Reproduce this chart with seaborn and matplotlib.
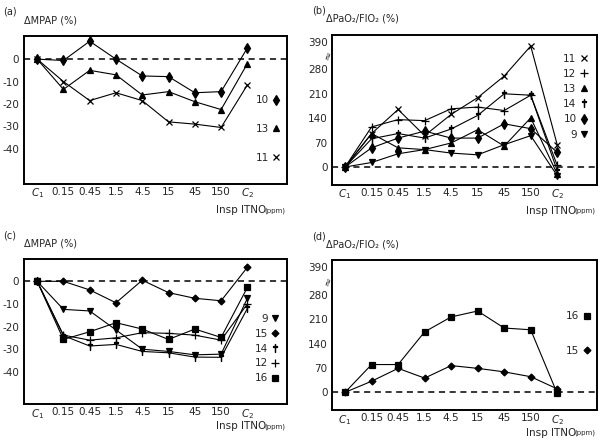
import numpy as np
import pandas as pd
import matplotlib
matplotlib.use('Agg')
import matplotlib.pyplot as plt
import seaborn as sns
from matplotlib.lines import Line2D

doses = ['$C_1$', '0.15', '0.45', '1.5', '4.5', '15', '45', '150', '$C_2$']

# (a) delta MPAP (%)
a_10 = [0, -0.6, 8, 0, -7.5, -7.8, -15, -14.5, 5]
a_13 = [0, -13.5, -5, -7, -16, -14.5, -19, -22.5, -2]
a_11 = [0, -10, -18.5, -15, -18.5, -28, -29, -30.5, -11.5]

# (b) delta PaO2/FIO2 (%)
b_11 = [0, 96, 165, 90, 151, 199, 261, 373, 64]
b_12 = [0, 115, 136, 133, 167, 172, 162, 206, 5]
b_13 = [0, 96, 55, 50, 69, 107, 60, 141, -20]
b_14 = [0, 81, 96, 83, 109, 148, 210, 206, -10]
b_10 = [0, 55, 83, 103, 83, 83, 124, 110, 42]
b_9 = [0, 13, 38, 50, 40, 35, 64, 90, -25]

# (c) delta MPAP (%)
c_9 = [0, -12.4, -13.1, -21.5, -30, -31, -32.5, -32.2, -7.5]
c_15 = [0, 0, -3.8, -9.5, 0.5, -5, -7.5, -8.6, 6.2]
c_14 = [0, -24, -28.6, -27.9, -31, -31.6, -33.5, -33.6, -12]
c_12 = [0, -23.8, -26, -25, -22.7, -23, -23.8, -26, -10]
c_16 = [0, -25.7, -22.3, -18.3, -21.1, -25.7, -21.1, -24.8, -2.7]

# (d) delta PaO2/FIO2 (%)
d_16 = [0, 80, 80, 174, 217, 234, 185, 180, -3]
d_15 = [0, 32, 69, 41, 77, 69, 59, 45, 10]

markers = {'9': 'v', '10': 'd', '11': 'x', '12': '+', '13': '^',
           '14': r'$\dagger$', '15': 'D', '16': 's'}
msize = {'9': 5, '10': 5, '11': 5, '12': 6, '13': 5, '14': 6, '15': 3.5, '16': 5}

panels = [
    ('(a)', 'ΔMPAP (%)', {'10': a_10, '13': a_13, '11': a_11}, ['10', '13', '11']),
    ('(b)', 'ΔPaO₂/FIO₂ (%)', {'11': b_11, '12': b_12, '13': b_13, '14': b_14, '10': b_10, '9': b_9},
     ['11', '12', '13', '14', '10', '9']),
    ('(c)', 'ΔMPAP (%)', {'9': c_9, '15': c_15, '14': c_14, '12': c_12, '16': c_16},
     ['9', '15', '14', '12', '16']),
    ('(d)', 'ΔPaO₂/FIO₂ (%)', {'16': d_16, '15': d_15}, ['16', '15']),
]

sns.set_style('white')
plt.rcParams['font.family'] = ['DejaVu Sans']
plt.rcParams['mathtext.fontset'] = 'dejavusans'


def fwd(v):
    v = np.asarray(v, dtype=float)
    return np.where(v > 280, 280 + (v - 280) * 0.72, v)


def inv(u):
    u = np.asarray(u, dtype=float)
    return np.where(u > 280, 280 + (u - 280) / 0.72, u)


fig = plt.figure(figsize=(6, 4.4), dpi=100)
boxes = [[0.040, 0.582, 0.438, 0.336], [0.553, 0.580, 0.442, 0.341],
         [0.040, 0.081, 0.438, 0.3295], [0.553, 0.068, 0.442, 0.340]]
ylims = [(-55.7, 10.3), (-51, 418), (-54.4, 9.7), (-51, 418)]
leg_pos = [(0.975, 0.60, 1.8), (0.966, 0.875, 0.5), (0.972, 0.625, 0.47), (0.977, 0.66, 2.35)]
xlab_y = [0.522, 0.520, 0.031, 0.017]

for i, (tag, ylab, series, order) in enumerate(panels):
    ax = fig.add_axes(boxes[i])
    rows = []
    for name, vals in series.items():
        for k, v in enumerate(vals):
            rows.append({'pos': k, 'value': v, 'patient': name})
    df = pd.DataFrame(rows)
    pressure = i in (0, 2)
    if not pressure:
        ax.set_yscale('function', functions=(fwd, inv))
    ax.axhline(0, color='black', lw=1.1, ls=(0, (4, 3)), zorder=1)
    for name in order:
        sub = df[df['patient'] == name]
        sns.lineplot(data=sub, x='pos', y='value', color='black', lw=0.8,
                     marker=markers[name], markersize=msize[name], markeredgewidth=0.9,
                     markeredgecolor='black', ax=ax, legend=False, zorder=3)
    ax.set_xlim(-0.5, 9.5)
    ax.set_xticks(range(10))
    ax.set_xticklabels(doses + [''], fontsize=7.5)
    ax.set_ylim(*ylims[i])
    if pressure:
        ax.set_yticks([0, -10, -20, -30, -40, -50])
        ax.set_yticklabels(['0', '-10', '-20', '-30', '-40', ''], fontsize=7.5)
        ax.tick_params(axis='y', direction='inout', length=5, width=1, pad=1)
    else:
        ax.set_yticks([0, 70, 140, 210, 280, 390])
        ax.set_yticklabels(['0', '70', '140', '210', '280', '390'], fontsize=7.5)
        ax.tick_params(axis='y', direction='in', length=4, width=1, pad=3)
        ax.text(-0.012, 335, '≈', rotation=70, fontsize=8, ha='center', va='center',
                transform=ax.get_yaxis_transform())
    ax.tick_params(axis='x', direction='in', length=4, width=1, pad=2)
    ax.set_xlabel('')
    ax.set_ylabel('')
    for s in ax.spines.values():
        s.set_visible(True)
        s.set_color('black')
        s.set_linewidth(1.4)

    handles = [Line2D([], [], ls='none', marker=markers[n], markersize=msize[n],
                      color='black', markeredgewidth=0.9) for n in order]
    lx, ly, lsp = leg_pos[i]
    ax.legend(handles, order, loc='upper right', bbox_to_anchor=(lx, ly), frameon=False,
              markerfirst=False, handlelength=0.8, handletextpad=0.3, borderpad=0,
              borderaxespad=0, labelspacing=lsp, fontsize=7.5)

    x0, y0, w, h = boxes[i]
    fig.text(x0 - 0.035 + (0.003 if i % 2 else 0), y0 + h + 0.055, tag, fontsize=7,
             ha='left', va='center')
    fig.text(x0 + (-0.01 if i % 2 else 0), y0 + h + 0.036, ylab, fontsize=7,
             ha='left', va='center')
    fig.text(x0 + w - 0.035, xlab_y[i], 'Insp ITNO', fontsize=7.5, ha='right', va='center')
    fig.text(x0 + w - 0.002, xlab_y[i], '(ppm)', fontsize=5, ha='right', va='center')

fig.savefig('out.png', dpi=100)
